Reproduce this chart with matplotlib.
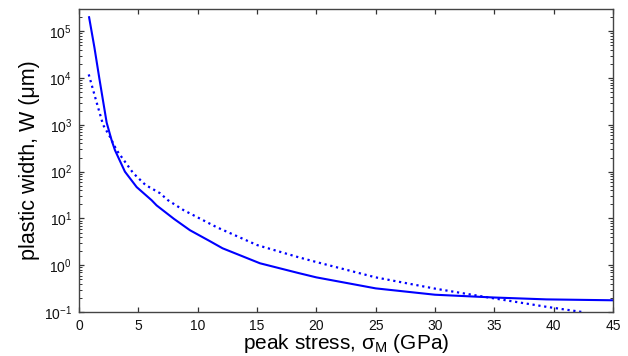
import matplotlib.pyplot as plt
import numpy as np

plt.rcParams['font.family'] = ['Liberation Sans', 'DejaVu Sans']
plt.rcParams['mathtext.fontset'] = 'custom'
plt.rcParams['mathtext.rm'] = 'Liberation Sans'
plt.rcParams['mathtext.it'] = 'Liberation Sans:italic'
plt.rcParams['mathtext.bf'] = 'Liberation Sans:bold'

# solid curve
x_solid = [0.85, 1.3, 1.71, 2.33, 2.75, 3.03, 3.87, 4.86, 6.12, 6.54, 8.0,
           9.35, 11.0, 12.1, 15.25, 18.5, 20, 25, 30, 35, 39.4, 45]
w_solid = [2.0e5, 4.5e4, 1.0e4, 1.12e3, 468, 288, 100, 46.8, 24.5, 19, 9.8,
           5.6, 3.3, 2.3, 1.1, 0.68, 0.55, 0.32, 0.234, 0.204, 0.186, 0.178]

# dotted curve
x_dot = [0.82, 1.4, 2.03, 2.6, 3.17, 4.57, 5.6, 6.82, 7.5, 8.8, 11.6, 15.0,
         18.5, 20, 25, 30, 35, 39.4, 42.4]
w_dot = [1.2e4, 3.6e3, 1000, 562, 288, 93, 52, 34.7, 24.5, 15.1, 6.5, 2.7,
         1.48, 1.17, 0.55, 0.316, 0.195, 0.129, 0.1]

x_ticks = [0, 5, 10, 15, 20, 25, 30, 35, 40, 45]

fig = plt.figure(figsize=(6.28, 3.56), dpi=100)
ax = fig.add_axes([0.1258, 0.1236, 0.8503, 0.8511])

ax.plot(x_solid, w_solid, '-', color='#0000ff', lw=1.5)
ax.plot(x_dot, w_dot, ':', color='#0000ff', lw=1.6)

ax.set_yscale('log')
ax.set_xlim(0, 45)
ax.set_ylim(0.1, 3e5)
ax.set_xticks(x_ticks)
ax.set_yticks([1e-1, 1e0, 1e1, 1e2, 1e3, 1e4, 1e5])

ax.tick_params(which='both', direction='in', top=True, right=True,
               labelsize=10, colors='#333333', labelcolor='#111111')
ax.tick_params(which='major', length=3.3, width=0.9, pad=5)
ax.tick_params(which='minor', length=2.0, width=0.7)
ax.tick_params(axis='x', which='minor', bottom=False, top=False)
for s in ax.spines.values():
    s.set_color('#444444')
    s.set_linewidth(1.0)

ax.set_xlabel('peak stress, σ$_\\mathrm{M}$ (GPa)', fontsize=15, labelpad=-1)
ax.set_ylabel('plastic width, W (μm)', fontsize=15.5, labelpad=3)

fig.savefig('out.png', dpi=100)
